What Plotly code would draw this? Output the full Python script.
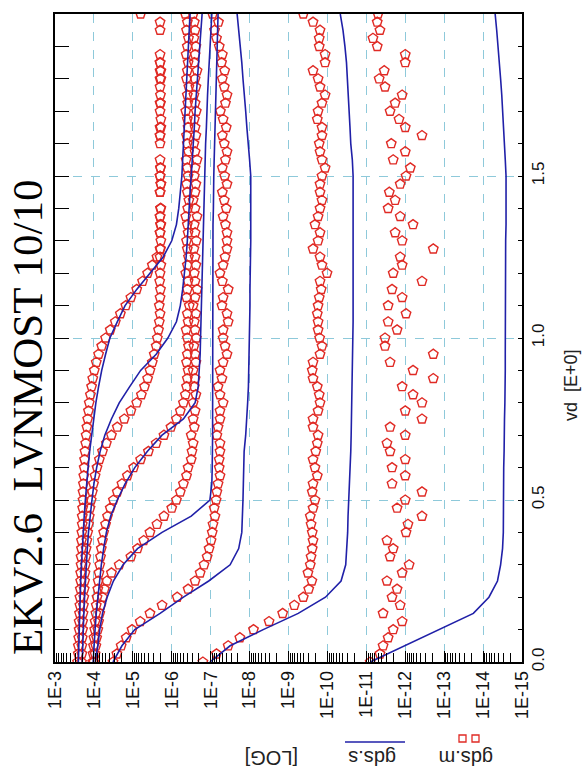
import plotly.graph_objects as go

# drain-voltage sweep of the measured points (V)
vd_meas = [0.0, 0.025, 0.05, 0.075, 0.1, 0.125, 0.15, 0.175, 0.2, 0.225,
           0.25, 0.275, 0.3, 0.325, 0.35, 0.375, 0.4, 0.425, 0.45, 0.475,
           0.5, 0.525, 0.55, 0.575, 0.6, 0.625, 0.65, 0.675, 0.7, 0.725,
           0.75, 0.775, 0.8, 0.825, 0.85, 0.875, 0.9, 0.925, 0.95, 0.975,
           1.0, 1.025, 1.05, 1.075, 1.1, 1.125, 1.15, 1.175, 1.2, 1.225,
           1.25, 1.275, 1.3, 1.325, 1.35, 1.375, 1.4, 1.425, 1.45, 1.475,
           1.5, 1.525, 1.55, 1.575, 1.6, 1.625, 1.65, 1.675, 1.7, 1.725,
           1.75, 1.775, 1.8, 1.825, 1.85, 1.875, 1.9, 1.925, 1.95, 1.975, 2.0]

# drain-voltage points of the simulated curves (V)
vd_sim = [0.0, 0.05, 0.1, 0.15, 0.2, 0.25, 0.3, 0.35, 0.4, 0.45,
          0.5, 0.55, 0.6, 0.65, 0.7, 0.75, 0.8, 0.85, 0.9, 0.95,
          1.0, 1.05, 1.1, 1.15, 1.2, 1.25, 1.3, 1.35, 1.4, 1.45,
          1.5, 1.55, 1.6, 1.65, 1.7, 1.75, 1.8, 1.85, 1.9, 1.95, 2.0]

# simulated gds (log10 S), one list per gate bias, low to high
gds_s_0 = [-11.1, -11.98, -12.87, -13.75, -14.15, -14.37, -14.45, -14.5, -14.52, -14.52,
           -14.52, -14.53, -14.53, -14.54, -14.54, -14.55, -14.56, -14.57, -14.57, -14.57,
           -14.57, -14.57, -14.57, -14.58, -14.58, -14.58, -14.58, -14.59, -14.59, -14.59,
           -14.59, -14.57, -14.55, -14.53, -14.5, -14.48, -14.45, -14.42, -14.39, -14.35, -14.31]
gds_s_1 = [-6.98, -7.5, -8.35, -9.25, -9.95, -10.35, -10.47, -10.5, -10.52, -10.53,
           -10.55, -10.57, -10.58, -10.6, -10.61, -10.62, -10.62, -10.63, -10.64, -10.65,
           -10.66, -10.66, -10.66, -10.66, -10.66, -10.66, -10.66, -10.66, -10.66, -10.66,
           -10.66, -10.64, -10.6, -10.58, -10.56, -10.54, -10.52, -10.49, -10.45, -10.4, -10.33]
gds_s_2 = [-4.49, -4.72, -5.05, -5.7, -6.3, -6.95, -7.5, -7.72, -7.8, -7.82,
           -7.83, -7.84, -7.85, -7.86, -7.9, -7.93, -7.95, -7.97, -7.98, -7.99,
           -8.0, -8.0, -8.01, -8.01, -8.02, -8.02, -8.03, -8.03, -8.03, -8.03,
           -8.03, -8.0, -7.96, -7.93, -7.9, -7.86, -7.83, -7.8, -7.76, -7.72, -7.68]
gds_s_3 = [-4.03, -4.1, -4.15, -4.22, -4.34, -4.5, -4.75, -5.12, -5.75, -6.5,
           -6.98, -7.03, -7.04, -7.05, -7.05, -7.05, -7.05, -7.05, -7.05, -7.05,
           -7.05, -7.05, -7.05, -7.05, -7.05, -7.05, -7.06, -7.06, -7.07, -7.07,
           -7.08, -7.09, -7.1, -7.11, -7.12, -7.13, -7.14, -7.15, -7.16, -7.17, -7.19]
gds_s_4 = [-3.98, -4.0, -4.03, -4.06, -4.1, -4.14, -4.19, -4.25, -4.32, -4.43,
           -4.6, -4.8, -5.05, -5.37, -5.75, -6.3, -6.6, -6.68, -6.71, -6.73,
           -6.74, -6.75, -6.76, -6.77, -6.78, -6.79, -6.8, -6.81, -6.82, -6.83,
           -6.84, -6.86, -6.87, -6.89, -6.9, -6.92, -6.94, -6.96, -6.98, -7.0, -7.03]
gds_s_5 = [-3.7, -3.71, -3.72, -3.74, -3.76, -3.78, -3.8, -3.83, -3.86, -3.9,
           -3.95, -4.0, -4.07, -4.16, -4.28, -4.45, -4.65, -4.92, -5.2, -5.6,
           -5.9, -6.12, -6.22, -6.28, -6.33, -6.37, -6.4, -6.42, -6.44, -6.47,
           -6.5, -6.53, -6.55, -6.58, -6.6, -6.63, -6.65, -6.68, -6.71, -6.74, -6.78]
gds_s_6 = [-3.6, -3.61, -3.62, -3.63, -3.64, -3.66, -3.68, -3.7, -3.72, -3.75,
           -3.78, -3.81, -3.85, -3.89, -3.94, -3.99, -4.05, -4.12, -4.2, -4.3,
           -4.41, -4.6, -4.8, -5.1, -5.45, -5.78, -6.0, -6.12, -6.18, -6.22,
           -6.26, -6.28, -6.3, -6.32, -6.34, -6.36, -6.38, -6.4, -6.42, -6.44, -6.47]

# measured gds (log10 S), one list per gate bias; None = no valid point
gds_m_0 = [-11.1, -11.35, -11.43, -11.56, -11.69, -11.92, -11.43, -11.87, -11.66, -11.79,
           -11.53, -11.92, -12.1, -11.61, -11.69, -11.53, -12.02, -12.07, -12.43, -11.79,
           -12.0, -12.43, -11.66, -12.0, -11.66, -12.0, -11.61, -11.53, -12.0, -11.61,
           -12.43, -12.0, -12.43, -12.2, -11.92, -12.72, -12.2, -11.61, -12.72, -11.48,
           -11.48, -11.79, -11.56, -12.02, -11.56, -11.92, -11.66, -12.43, -11.69, -11.92,
           -11.87, -12.72, -11.92, -11.74, -12.2, -11.87, -11.56, -11.74, -11.59, -11.87,
           -12.02, -12.13, -11.69, -12.0, -11.64, -12.43, -12.0, -11.84, -11.61, -11.74,
           -11.92, -11.48, -11.33, -11.46, -12.0, -12.0, -11.28, -11.17, -11.35, -11.28, -11.3]
gds_m_1 = [-6.8, -7.15, -7.45, -7.75, -8.1, -8.5, -8.85, -9.15, -9.38, -9.52,
           -9.6, -9.5, -9.56, -9.58, -9.61, -9.63, -9.61, -9.58, -9.56, -9.63,
           -9.68, -9.61, -9.63, -9.74, -9.68, -9.63, -9.7, -9.74, -9.76, -9.63,
           -9.63, -9.76, -9.81, -9.79, -9.74, -9.63, -9.61, -9.63, -9.81, -9.86,
           -9.8, -9.76, -9.76, -9.74, -9.76, -9.79, -9.84, -9.81, -9.99, -9.86,
           -9.81, -9.63, -9.76, -9.81, -9.68, -9.76, -9.81, -9.86, -9.81, -9.81,
           -9.86, -9.94, -9.86, -9.81, -9.79, -9.86, -9.86, -9.74, -9.76, -9.86,
           -9.94, -9.81, -9.76, -9.63, -9.94, -9.94, -9.79, -9.79, -9.81, -9.63, -9.38]
gds_m_2 = [-4.49, -4.59, -4.7, -4.83, -4.98, -5.19, -5.44, -5.75, -6.14, -6.42,
           -6.6, -6.73, -6.83, -6.91, -6.96, -7.01, -7.04, -7.06, -7.11, -7.09,
           -7.14, -7.16, -7.19, -7.24, -7.22, -7.22, -7.24, -7.24, -7.16, -7.19,
           -7.24, -7.24, -7.32, -7.24, -7.19, -7.29, -7.24, -7.32, -7.42, -7.37,
           -7.32, -7.32, -7.45, -7.42, -7.29, -7.32, -7.45, -7.3, -7.24, -7.32,
           -7.37, -7.42, -7.42, -7.42, -7.38, -7.32, -7.4, -7.35, -7.3, -7.42,
           -7.36, -7.3, -7.38, -7.42, -7.35, -7.3, -7.4, -7.32, -7.25, -7.38,
           -7.42, -7.35, -7.3, -7.36, -7.28, -7.3, -7.22, -7.15, -7.1, -7.2, -7.05]
gds_m_3 = [-4.0, -4.03, -4.05, -4.07, -4.1, -4.12, -4.15, -4.18, -4.22, -4.27,
           -4.33, -4.45, -4.65, -4.95, -5.12, -5.28, -5.44, -5.62, -5.8, -6.0,
           -6.12, -6.22, -6.3, -6.38, -6.42, -6.5, -6.52, -6.55, -6.5, -6.58,
           -6.55, -6.6, -6.55, -6.62, -6.58, -6.6, -6.55, -6.62, -6.6, -6.57,
           -6.63, -6.6, -6.58, -6.62, -6.55, -6.6, -6.65, -6.6, -6.58, -6.62,
           -6.6, -6.57, -6.63, -6.6, -6.58, -6.65, -6.6, -6.55, -6.6, -6.62,
           -6.58, -6.6, -6.65, -6.6, -6.57, -6.62, -6.6, -6.58, -6.63, -6.6,
           -6.57, -6.62, -6.6, -6.65, -6.58, -6.6, -6.62, -6.57, -6.6, -6.58, -6.55]
gds_m_4 = [-3.97, -3.98, -3.99, -4.0, -4.02, -4.03, -4.05, -4.06, -4.08, -4.1,
           -4.11, -4.13, -4.15, -4.17, -4.19, -4.22, -4.25, -4.3, -4.35, -4.42,
           -4.5, -4.6, -4.72, -4.86, -5.02, -5.2, -5.4, -5.6, -5.8, -5.98,
           -6.12, -6.22, -6.3, -6.35, -6.38, -6.4, -6.42, -6.38, -6.4, -6.43,
           -6.4, -6.37, -6.42, -6.4, -6.45, -6.38, -6.4, -6.42, -6.36, -6.4,
           -6.43, -6.4, -6.38, -6.42, -6.4, -6.36, -6.41, -6.44, -6.4, -6.38,
           -6.42, -6.4, -6.37, -6.43, -6.4, -6.38, -6.42, -6.4, -6.36, -6.41,
           -6.4, -6.44, -6.38, -6.4, -6.42, -6.37, -6.4, -6.43, -6.38, -6.4, -6.35]
gds_m_5 = [-3.68, -3.69, -3.69, -3.7, -3.71, -3.71, -3.72, -3.73, -3.74, -3.75,
           -3.76, -3.77, -3.78, -3.79, -3.8, -3.82, -3.84, -3.86, -3.88, -3.9,
           -3.93, -3.96, -3.99, -4.03, -4.08, -4.14, -4.22, -4.32, -4.45, -4.6,
           -4.78, -4.95, -5.1, -5.22, -5.3, -5.38, -5.44, -5.5, -5.55, -5.6,
           -5.63, -5.66, -5.68, -5.7, -5.68, -5.7, -5.71, -5.69, -5.7, -5.72,
           -5.7, -5.71, None, -5.7, -5.72, -5.7, -5.71, None, -5.7, -5.72,
           -5.7, -5.71, None, None, -5.7, -5.7, -5.72, None, -5.7, -5.71,
           None, -5.7, -5.72, -5.7, -5.7, None, None, None, -5.7, None, -5.2]
gds_m_6 = [-3.58, -3.6, -3.6, -3.61, -3.62, -3.62, -3.63, -3.64, -3.64, -3.65,
           -3.66, -3.66, -3.67, -3.67, -3.68, -3.68, -3.69, -3.7, -3.7, -3.71,
           -3.72, -3.72, -3.73, -3.74, -3.75, -3.76, -3.77, -3.79, -3.8, -3.82,
           -3.84, -3.86, -3.88, -3.91, -3.94, -3.97, -4.01, -4.06, -4.12, -4.2,
           -4.3, -4.42, -4.55, -4.68, -4.82, -4.95, -5.1, -5.25, -5.38, -5.5,
           -5.62, -5.7, -5.72, -5.7, -5.71, -5.7, -5.72, None, -5.7, -5.72,
           -5.7, -5.71, -5.7, None, None, -5.7, -5.7, -5.72, None, -5.7,
           -5.71, None, -5.7, -5.72, -5.7, -5.7, None, None, None, -5.7, None]

decade_exponents = [-3, -4, -5, -6, -7, -8, -9, -10, -11, -12, -13, -14, -15]
decade_labels = ["1E-3", "1E-4", "1E-5", "1E-6", "1E-7", "1E-8", "1E-9",
                 "1E-10", "1E-11", "1E-12", "1E-13", "1E-14", "1E-15"]
vd_tick_vals = [0.0, 0.5, 1.0, 1.5, 2.0]
vd_tick_text = ["0.0", "0.5", "1.0", "1.5", "2.0"]

TITLE = "EKV2.6  LVNMOST 10/10"
MEAS_RED = "#e02a24"
SIM_BLUE = "#2020a8"
GRID = "#8ec9da"
SANS = "Liberation Sans, Arial, sans-serif"

W, H = 584, 778
L, R, T, B = 55, 522, 14, 662  # plot frame in pixels


def px(x):
    return (x - L) / (R - L)


def py(y):
    return (B - y) / (B - T)


def to_gds(exps):
    return [None if e is None else 10 ** e for e in exps]


sim_sets = [gds_s_0, gds_s_1, gds_s_2, gds_s_3, gds_s_4, gds_s_5, gds_s_6]
meas_sets = [gds_m_0, gds_m_1, gds_m_2, gds_m_3, gds_m_4, gds_m_5, gds_m_6]

fig = go.Figure()

for m in meas_sets:
    fig.add_trace(go.Scatter(
        x=to_gds(m), y=vd_meas, mode="markers", showlegend=False,
        marker=dict(symbol="pentagon-open", size=10, color=MEAS_RED,
                    line=dict(width=1.4, color=MEAS_RED)),
        cliponaxis=True, hoverinfo="skip"))

for k, s in enumerate(sim_sets):
    fig.add_trace(go.Scatter(
        x=to_gds(s), y=vd_sim, mode="lines", showlegend=False,
        line=dict(color=SIM_BLUE, width=1.6),
        yaxis="y2" if k == 0 else "y", hoverinfo="skip"))

minor_vals = []
for e in range(-15, -3):
    for m in range(2, 10):
        minor_vals.append(m * 10 ** e)

fig.update_layout(
    width=W, height=H,
    margin=dict(l=L, r=W - R, t=T, b=H - B, pad=0),
    paper_bgcolor="white", plot_bgcolor="white",
    showlegend=False,
    font=dict(family=SANS, size=18, color="#111"),
    xaxis=dict(
        type="log", range=[-3, -15],
        tickmode="array", tickvals=[10 ** e for e in decade_exponents],
        ticktext=decade_labels, tickangle=-90,
        ticks="inside", ticklen=11, tickwidth=1, tickcolor="black",
        showline=True, linecolor="black", linewidth=1.5, mirror=True,
        showgrid=True, gridcolor=GRID, griddash="dash", gridwidth=1,
        minor=dict(tickmode="array", tickvals=minor_vals, ticks="inside",
                   ticklen=9, tickcolor="black", tickwidth=1, showgrid=False),
        tickfont=dict(family=SANS, size=18, color="#111"),
        zeroline=False,
    ),
    yaxis=dict(
        range=[0, 2], side="right",
        tickmode="array", tickvals=vd_tick_vals, ticktext=vd_tick_text,
        tickangle=-90, ticks="inside", ticklen=4, tickcolor="black",
        showline=True, linecolor="black", linewidth=1.5,
        showgrid=True, gridcolor=GRID, griddash="dash", gridwidth=1,
        minor=dict(dtick=0.1, ticks="inside", ticklen=4, tickcolor="black",
                   showgrid=False),
        tickfont=dict(family=SANS, size=17, color="#111"),
        zeroline=False,
    ),
    yaxis2=dict(
        range=[0, 2], overlaying="y", side="left", matches="y",
        showticklabels=False, ticks="inside", ticklen=14, dtick=0.1,
        tickcolor="black", showline=True, linecolor="black", linewidth=1.5,
        showgrid=False, zeroline=False,
    ),
)

annotations = [
    dict(text=TITLE, x=px(27), y=py(418), textangle=-90,
         font=dict(family="Liberation Serif, Times New Roman, serif", size=43, color="black")),
    dict(text="vd  [E+0]", x=px(571), y=py(385), textangle=-90,
         font=dict(family=SANS, size=18, color="#222")),
    dict(text="gds.m", x=px(466), y=py(758), textangle=180,
         font=dict(family=SANS, size=20, color="#222")),
    dict(text="gds.s", x=px(372), y=py(758), textangle=180,
         font=dict(family=SANS, size=20, color="#222")),
    dict(text="[LOG]", x=px(272), y=py(758), textangle=180,
         font=dict(family=SANS, size=20, color="#222")),
]
for a in annotations:
    a.update(xref="paper", yref="paper", showarrow=False,
             xanchor="center", yanchor="middle")
fig.update_layout(annotations=annotations)

# legend swatches above the axis title
shapes = [
    dict(type="line", x0=px(345), x1=px(405), y0=py(742), y1=py(742),
         line=dict(color=SIM_BLUE, width=1.5)),
    dict(type="rect", x0=px(459), x1=px(466), y0=py(742), y1=py(735),
         line=dict(color=MEAS_RED, width=1.3)),
    dict(type="rect", x0=px(472), x1=px(479), y0=py(742), y1=py(735),
         line=dict(color=MEAS_RED, width=1.3)),
]
for s in shapes:
    s.update(xref="paper", yref="paper")
fig.update_layout(shapes=shapes)

fig.write_html("out.html")
